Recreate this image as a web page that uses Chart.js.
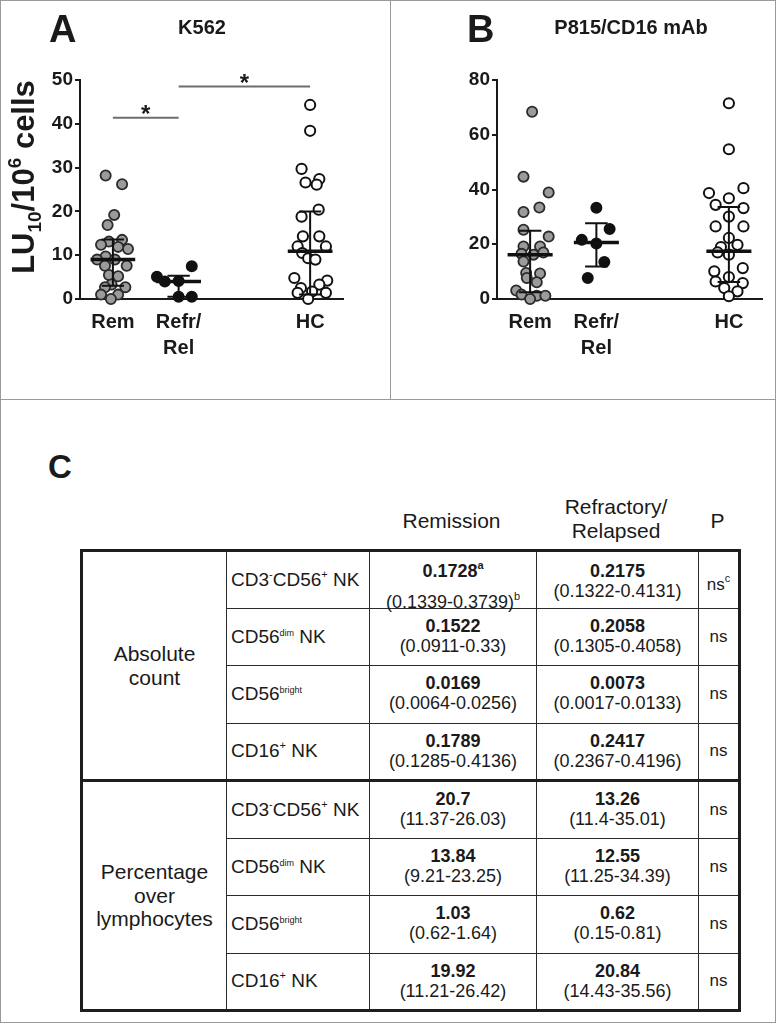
<!DOCTYPE html>
<html>
<head>
<meta charset="utf-8">
<title>NK cytotoxicity</title>
<script src="https://cdn.jsdelivr.net/npm/chart.js@4.4.1/dist/chart.umd.min.js"></script>
<style>
html, body { margin: 0; padding: 0; background: #fff; }
body { width: 776px; height: 1023px; position: relative; overflow: hidden;
       font-family: "Liberation Sans", Arial, Helvetica, sans-serif; color: #1a1a1a; }
.frame { position: absolute; left: 0; top: 0; width: 774px; height: 1021px; border: 1px solid #9a9a9a; }
.vdiv { position: absolute; left: 390px; top: 0; width: 1px; height: 400px; background: #9a9a9a; }
.hdiv { position: absolute; left: 0; top: 399px; width: 776px; height: 1px; background: #9a9a9a; }
#chartA { position: absolute; left: 0; top: 0; }
#chartB { position: absolute; left: 391px; top: 0; }
.lab { position: absolute; white-space: nowrap; }
.hd { position: absolute; font-size: 21px; line-height: 24px; text-align: center; }
table { position: absolute; left: 80px; top: 549px; width: 658px; border-collapse: collapse;
        table-layout: fixed; border: 3px solid #1e1e1e; }
tr { height: 57.5px; }
td { border: 1.5px solid #2a2a2a; padding: 0; }
tr.split td { border-top: 3px solid #1e1e1e; }
.grp { text-align: center; vertical-align: middle; font-size: 21px; line-height: 23.5px; }
.mk { text-align: left; vertical-align: middle; padding-left: 4px; font-size: 19px; white-space: nowrap; }
.v { text-align: center; vertical-align: top; padding-top: 7px; font-size: 18px; line-height: 20px; white-space: nowrap; }
.n { font-weight: bold; }
.p { text-align: center; vertical-align: middle; font-size: 17px; }
.sp { font-size: 11px; position: relative; top: -8px; }
.sm { font-size: 9px; position: relative; top: -7px; }
</style>
</head>
<body>
<div class="frame"></div>
<div class="vdiv"></div>
<div class="hdiv"></div>
<canvas id="chartA" width="390" height="399"></canvas>
<canvas id="chartB" width="385" height="399"></canvas>

<div class="lab" style="left:48px; top:450px; font-size:33px; line-height:33px; font-weight:bold;">C</div>
<div class="hd" style="left:368px; width:167px; top:509px;">Remission</div>
<div class="hd" style="left:535px; width:162px; top:495px;">Refractory/<br>Relapsed</div>
<div class="hd" style="left:697px; width:41px; top:509px;">P</div>

<table>
  <colgroup>
    <col style="width:145px"><col style="width:143px"><col style="width:167px"><col style="width:162px"><col style="width:41px">
  </colgroup>
  <tr>
    <td class="grp" rowspan="4">Absolute<br>count</td>
    <td class="mk">CD3<span class="sp">-</span>CD56<span class="sp">+</span> NK</td>
    <td class="v" style="padding-top:9px"><div class="n">0.1728<span class="sp">a</span></div><div style="position:relative; top:9px">(0.1339-0.3739)<span class="sp">b</span></div></td>
    <td class="v" style="padding-top:9px"><div class="n">0.2175</div><div>(0.1322-0.4131)</div></td>
    <td class="p"><span style="position:relative; top:5px">ns<span class="sp">c</span></span></td>
  </tr>
  <tr>
    <td class="mk">CD56<span class="sm">dim</span> NK</td>
    <td class="v"><div class="n">0.1522</div><div>(0.0911-0.33)</div></td>
    <td class="v"><div class="n">0.2058</div><div>(0.1305-0.4058)</div></td>
    <td class="p">ns</td>
  </tr>
  <tr>
    <td class="mk">CD56<span class="sm">bright</span></td>
    <td class="v"><div class="n">0.0169</div><div>(0.0064-0.0256)</div></td>
    <td class="v"><div class="n">0.0073</div><div>(0.0017-0.0133)</div></td>
    <td class="p">ns</td>
  </tr>
  <tr>
    <td class="mk">CD16<span class="sp">+</span> NK</td>
    <td class="v"><div class="n">0.1789</div><div>(0.1285-0.4136)</div></td>
    <td class="v"><div class="n">0.2417</div><div>(0.2367-0.4196)</div></td>
    <td class="p">ns</td>
  </tr>
  <tr class="split">
    <td class="grp" rowspan="4">Percentage<br>over<br>lymphocytes</td>
    <td class="mk">CD3<span class="sp">-</span>CD56<span class="sp">+</span> NK</td>
    <td class="v"><div class="n">20.7</div><div>(11.37-26.03)</div></td>
    <td class="v"><div class="n">13.26</div><div>(11.4-35.01)</div></td>
    <td class="p">ns</td>
  </tr>
  <tr>
    <td class="mk">CD56<span class="sm">dim</span> NK</td>
    <td class="v"><div class="n">13.84</div><div>(9.21-23.25)</div></td>
    <td class="v"><div class="n">12.55</div><div>(11.25-34.39)</div></td>
    <td class="p">ns</td>
  </tr>
  <tr>
    <td class="mk">CD56<span class="sm">bright</span></td>
    <td class="v"><div class="n">1.03</div><div>(0.62-1.64)</div></td>
    <td class="v"><div class="n">0.62</div><div>(0.15-0.81)</div></td>
    <td class="p">ns</td>
  </tr>
  <tr>
    <td class="mk">CD16<span class="sp">+</span> NK</td>
    <td class="v"><div class="n">19.92</div><div>(11.21-26.42)</div></td>
    <td class="v"><div class="n">20.84</div><div>(14.43-35.56)</div></td>
    <td class="p">ns</td>
  </tr>
</table>

<script>
// Groups on the x axis (HC is placed after a gap, like the original)
const groupLabels = ['Rem', ['Refr/', 'Rel'], 'HC'];
const groupX = [1, 2, 4];

// Panel A - K562, LU10/10^6 cells
const k562Rem = [28.2, 26.2, 19.2, 16.9, 13.1, 13.5, 12.4, 11.4, 11.9, 9.7, 9.0, 9.0, 7.6, 7.6, 5.5, 5.2, 3.3, 2.7, 2.7, 1.0, 1.0, 0.0];
const k562RemJitter = [-0.11, 0.14, 0.02, -0.08, -0.06, 0.14, -0.18, 0.23, 0.08, -0.11, 0.03, -0.24, -0.12, 0.21, -0.06, 0.08, -0.02, -0.12, 0.19, -0.18, 0.08, -0.03];
const k562Ref = [7.5, 5.1, 4.0, 4.1, 0.5, 0.5];
const k562RefJitter = [0.2, -0.33, -0.21, 0.0, 0.0, 0.2];
const k562HC = [44.3, 38.4, 29.7, 26.6, 27.4, 26.1, 20.4, 18.8, 14.3, 14.3, 12.0, 12.0, 10.5, 9.3, 9.0, 4.8, 4.2, 3.3, 2.5, 1.4, 1.7, 1.4, 0.0];
const k562HCJitter = [0, 0, -0.13, -0.07, 0.14, 0.1, 0.13, -0.13, -0.11, 0.14, -0.19, 0.24, -0.12, -0.03, 0.08, -0.24, 0.26, 0.14, -0.14, -0.19, 0.03, 0.24, -0.03];
const k562Median = [9.0, 4.0, 10.9];
const k562Low = [3.0, 0.5, 1.0];
const k562High = [13.6, 5.3, 20.0];
const k562Brackets = [[1, 2, 41.4], [2, 4, 48.5]];   // from, to, height
const k562Ticks = [0, 50, 10];                        // min, max, step

// Panel B - P815/CD16 mAb
const p815Rem = [68.4, 44.7, 38.9, 33.4, 31.8, 25.3, 22.8, 19.2, 19.2, 16.2, 16.5, 17.0, 13.7, 9.5, 9.3, 7.7, 6.1, 3.1, 1.6, 1.2, 1.2, 0.0];
const p815RemJitter = [0.03, -0.1, 0.28, 0.14, -0.1, -0.1, 0.28, -0.1, 0.15, 0.05, -0.13, 0.2, -0.1, -0.06, 0.15, -0.05, 0.1, -0.21, -0.13, 0.1, 0.23, 0.0];
const p815Ref = [33.3, 25.6, 21.6, 20.3, 13.5, 7.7];
const p815RefJitter = [0.0, 0.2, -0.22, 0.0, 0.12, -0.13];
const p815HC = [71.5, 54.7, 40.5, 38.7, 36.8, 34.4, 33.2, 30.1, 26.5, 26.5, 22.3, 19.8, 19.0, 17.0, 16.2, 11.3, 10.1, 8.0, 6.4, 5.8, 4.0, 2.8, 1.0];
const p815HCJitter = [0, 0, 0.22, -0.3, 0, -0.2, 0.22, 0, -0.2, 0.22, 0, 0.13, -0.12, -0.17, 0, 0.21, -0.22, 0, -0.2, 0.21, -0.07, 0.13, 0];
const p815Median = [16.2, 20.6, 17.4];
const p815Low = [2.5, 11.9, 6.2];
const p815High = [24.9, 27.7, 33.6];
const p815Ticks = [0, 80, 20];

const yTitleParts = [
    { text: 'LU', size: 31 },
    { text: '10', size: 19, dy: 7 },
    { text: '/10', size: 31 },
    { text: '6', size: 19, dy: -13 },
    { text: ' cells', size: 31 }
];

const FONT = '"Liberation Sans", Arial, Helvetica, sans-serif';
const INK = '#1a1a1a';

// Turn values + horizontal scatter into {x, y} points
function groupPoints(values, jitter, center) {
    return values.map((v, i) => ({ x: center + jitter[i], y: v }));
}

// Median bars, whiskers and caps for all three groups
function summaryData(median, low, high) {
    const bars = [], whiskers = [];
    groupX.forEach((c, i) => {
        bars.push({ x: c - 0.34, y: median[i] }, { x: c + 0.34, y: median[i] }, { x: c, y: null });
        whiskers.push(
            { x: c, y: low[i] }, { x: c, y: high[i] }, { x: c, y: null },
            { x: c - 0.17, y: low[i] }, { x: c + 0.17, y: low[i] }, { x: c, y: null },
            { x: c - 0.17, y: high[i] }, { x: c + 0.17, y: high[i] }, { x: c, y: null }
        );
    });
    return { bars, whiskers };
}

function bracketData(brackets) {
    const pts = [];
    brackets.forEach(b => pts.push({ x: b[0], y: b[2] }, { x: b[1], y: b[2] }, { x: b[0], y: null }));
    return pts;
}

// Panel letter, title, stars and the y title with sub/superscript
const panelText = {
    id: 'panelText',
    afterDraw(chart, args, opts) {
        const ctx = chart.ctx;
        ctx.save();
        ctx.fillStyle = INK;
        ctx.textBaseline = 'alphabetic';
        ctx.textAlign = 'left';
        ctx.font = 'bold 38px ' + FONT;
        ctx.fillText(opts.letter, opts.letterX, 42);
        ctx.textAlign = 'center';
        ctx.font = 'bold 20px ' + FONT;
        ctx.fillText(opts.title, opts.titleX, 34);

        const xs = chart.scales.x, ys = chart.scales.y;
        ctx.font = 'bold 24px ' + FONT;
        (opts.brackets || []).forEach(b => {
            const px = xs.getPixelForValue((b[0] + b[1]) / 2);
            const py = ys.getPixelForValue(b[2]);
            ctx.fillText('*', px, py + 4.5);
        });

        if (opts.yTitle) {
            let total = 0;
            opts.yTitle.forEach(p => {
                ctx.font = 'bold ' + p.size + 'px ' + FONT;
                p.w = ctx.measureText(p.text).width;
                total += p.w;
            });
            ctx.translate(34, 177 + total / 2);
            ctx.rotate(-Math.PI / 2);
            ctx.textAlign = 'left';
            let cx = 0;
            opts.yTitle.forEach(p => {
                ctx.font = 'bold ' + p.size + 'px ' + FONT;
                ctx.fillText(p.text, cx, p.dy || 0);
                cx += p.w;
            });
        }
        ctx.restore();
    }
};

function makeChart(canvasId, d) {
    const s = summaryData(d.median, d.low, d.high);
    const lineBase = { showLine: true, pointRadius: 0, spanGaps: false, clip: false, borderColor: '#111' };
    const pointBase = { pointRadius: 5.1, borderWidth: 1.8, clip: false };

    return new Chart(document.getElementById(canvasId), {
        type: 'scatter',
        data: {
            datasets: [
                Object.assign({}, lineBase, { data: bracketData(d.brackets || []), borderColor: '#6e6e6e', borderWidth: 2, order: 0 }),
                Object.assign({}, lineBase, { data: s.bars, borderWidth: 3.5, order: 0 }),
                Object.assign({}, lineBase, { data: s.whiskers, borderWidth: 2, order: 0 }),
                Object.assign({}, pointBase, { data: groupPoints(d.rem, d.remJitter, groupX[0]),
                    backgroundColor: '#9b9b9b', borderColor: '#2b2b2b', order: 1 }),
                Object.assign({}, pointBase, { data: groupPoints(d.ref, d.refJitter, groupX[1]),
                    backgroundColor: '#111', borderColor: '#111', order: 1 }),
                Object.assign({}, pointBase, { data: groupPoints(d.hc, d.hcJitter, groupX[2]),
                    backgroundColor: '#fff', borderColor: '#111', borderWidth: 2, order: 1 })
            ]
        },
        options: {
            responsive: false,
            animation: false,
            devicePixelRatio: 1,
            events: [],
            layout: { padding: { left: 0, right: d.padRight, top: 80, bottom: 0 } },
            plugins: {
                legend: { display: false },
                tooltip: { enabled: false },
                panelText: { letter: d.letter, letterX: d.letterX, title: d.title, titleX: d.titleX,
                             brackets: d.brackets, yTitle: d.yTitle }
            },
            scales: {
                x: {
                    type: 'linear', min: 0.5, max: 4.5,
                    afterFit: sc => { sc.height = 100; },
                    afterBuildTicks: sc => { sc.ticks = groupX.map(v => ({ value: v })); },
                    border: { color: INK, width: 2 },
                    grid: { display: false, drawTicks: false },
                    ticks: {
                        autoSkip: false, maxRotation: 0, padding: 10, color: INK,
                        callback: (v, i) => groupLabels[i],
                        font: { family: FONT, size: 20, weight: 'bold', lineHeight: 1.3 }
                    }
                },
                y: {
                    min: d.ticks[0], max: d.ticks[1],
                    afterFit: sc => { sc.width = d.yWidth; },
                    border: { color: INK, width: 2 },
                    grid: { drawOnChartArea: false, drawTicks: true, tickLength: 5, color: INK, lineWidth: 2 },
                    ticks: { stepSize: d.ticks[2], padding: 2, color: INK,
                             font: { family: FONT, size: 19, weight: 'bold' } }
                }
            }
        },
        plugins: [panelText]
    });
}

makeChart('chartA', {
    rem: k562Rem, remJitter: k562RemJitter, ref: k562Ref, refJitter: k562RefJitter,
    hc: k562HC, hcJitter: k562HCJitter, median: k562Median, low: k562Low, high: k562High,
    brackets: k562Brackets, ticks: k562Ticks, yTitle: yTitleParts,
    letter: 'A', letterX: 49, title: 'K562', titleX: 202, yWidth: 80, padRight: 47
});

makeChart('chartB', {
    rem: p815Rem, remJitter: p815RemJitter, ref: p815Ref, refJitter: p815RefJitter,
    hc: p815HC, hcJitter: p815HCJitter, median: p815Median, low: p815Low, high: p815High,
    ticks: p815Ticks, yTitle: null,
    letter: 'B', letterX: 76, title: 'P815/CD16 mAb', titleX: 240, yWidth: 106, padRight: 14
});
</script>
</body>
</html>
